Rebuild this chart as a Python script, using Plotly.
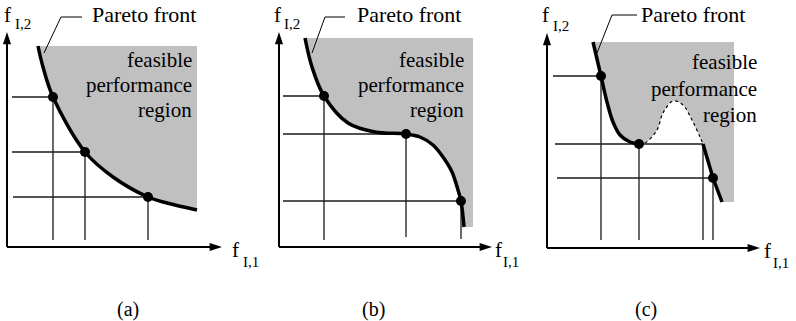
import plotly.graph_objects as go

# ---------------- data (panel-local units, origin at the axes corner) ----------------
# panel (a)
a_front_x = [31, 36, 46, 78, 106, 141, 160, 190]
a_front_y = [201, 180, 150, 95, 70, 50, 44, 37]
a_pts_x = [46, 78, 141]
a_pts_y = [150, 95, 50]
a_hline_start = [5, 5, 6]
a_vline_end = [7, 7, 7]
a_region_right = 190
a_region_top = 201

# panel (b)
b_front_x = [26, 33, 45, 69, 96, 127, 141, 154, 164, 173, 179, 182, 185]
b_front_y = [209, 180, 151, 124, 115, 113, 110, 102, 90, 75, 57, 46, 20]
b_pts_x = [45, 127, 182]
b_pts_y = [151, 113, 46]
b_hline_start = [4, 4, 4]
b_vline_end = [7, 10, 8]
b_region_right = 194
b_region_top = 209

# panel (c)
c_front1_x = [46, 54, 60, 66, 73, 83, 92]
c_front1_y = [206, 172, 146, 126, 113, 106, 104]
c_gap_x = [92, 98, 110, 116, 126, 136, 145, 153, 156]
c_gap_y = [104, 105, 118, 135, 147, 143, 128, 111, 104]
c_front2_x = [156, 166, 175]
c_front2_y = [104, 70, 46]
c_pts_x = [54, 92, 166]
c_pts_y = [172, 104, 70]
c_hline_y = [172, 104, 70]
c_hline_start = [6, 8, 10]
c_hline_end = [54, 156, 166]
c_vline_x = [54, 92, 156, 166]
c_vline_top = [172, 104, 104, 70]
c_vline_end = [8, 8, 8, 8]
c_region_right = 187
c_region_top = 206

panel_labels = ["(a)", "(b)", "(c)"]
axis_y_label = "f"
axis_y_sub = "I,2"
axis_x_label = "f"
axis_x_sub = "I,1"
front_label = "Pareto front"
region_lines = ["feasible", "performance", "region"]

# ---------------- style ----------------
FONT = "Liberation Serif"
GRAY = "#c0c0c0"
INK = "#000000"
THIN = "#1a1a1a"

fig = go.Figure()

panels = [
    dict(xa="x", ya="y", dom=[0, 265 / 796], xr=[-7, 258], yr=[-74, 247]),
    dict(xa="x2", ya="y2", dom=[265 / 796, 530 / 796], xr=[-14, 251], yr=[-74, 247]),
    dict(xa="x3", ya="y3", dom=[530 / 796, 1], xr=[-17, 249], yr=[-73, 248]),
]


def add_region(p, fx, fy, right, top):
    # outer boundary (invisible) then the front, filled between them
    fig.add_trace(go.Scatter(x=[fx[0], right, right], y=[top, top, fy[-1]],
                             mode="lines", line=dict(width=0, color=GRAY),
                             xaxis=p["xa"], yaxis=p["ya"], hoverinfo="skip"))
    fig.add_trace(go.Scatter(x=fx, y=fy, mode="lines", fill="tonexty",
                             fillcolor=GRAY, line=dict(width=0, color=GRAY, shape="spline"),
                             xaxis=p["xa"], yaxis=p["ya"], hoverinfo="skip"))


def add_seg(p, xs, ys, width=1.3, color=THIN, dash="solid", shape="linear"):
    fig.add_trace(go.Scatter(x=xs, y=ys, mode="lines",
                             line=dict(width=width, color=color, dash=dash, shape=shape),
                             xaxis=p["xa"], yaxis=p["ya"], hoverinfo="skip"))


def add_axes(p, ytop, xtip):
    add_seg(p, [0, 0], [0, ytop - 4], width=2, color=INK)
    add_seg(p, [0, xtip - 4], [0, 0], width=2, color=INK)
    fig.add_trace(go.Scatter(x=[0, xtip], y=[ytop, 0], mode="markers",
                             marker=dict(symbol="arrow", size=13, angle=[0, 90],
                                         color=INK, line=dict(width=0)),
                             xaxis=p["xa"], yaxis=p["ya"], hoverinfo="skip"))


def add_points(p, xs, ys):
    fig.add_trace(go.Scatter(x=xs, y=ys, mode="markers",
                             marker=dict(size=10, color=INK, line=dict(width=0)),
                             xaxis=p["xa"], yaxis=p["ya"], hoverinfo="skip"))


# panel (a)
pa, pb, pc = panels
add_region(pa, a_front_x, a_front_y, a_region_right, a_region_top)
for x, y, s, e in zip(a_pts_x, a_pts_y, a_hline_start, a_vline_end):
    add_seg(pa, [s, x], [y, y])
    add_seg(pa, [x, x], [y, e])
add_seg(pa, a_front_x, a_front_y, width=3.5, color=INK, shape="spline")
add_axes(pa, 215, 215)
add_points(pa, a_pts_x, a_pts_y)

# panel (b)
add_region(pb, b_front_x, b_front_y, b_region_right, b_region_top)
for x, y, s, e in zip(b_pts_x, b_pts_y, b_hline_start, b_vline_end):
    add_seg(pb, [s, x], [y, y])
    add_seg(pb, [x, x], [y, e])
add_seg(pb, b_front_x, b_front_y, width=3.5, color=INK, shape="spline")
add_axes(pb, 215, 213)
add_points(pb, b_pts_x, b_pts_y)

# panel (c)
c_all_x = c_front1_x + c_gap_x[1:] + c_front2_x[1:]
c_all_y = c_front1_y + c_gap_y[1:] + c_front2_y[1:]
add_region(pc, c_all_x, c_all_y, c_region_right, c_region_top)
for y, s, e in zip(c_hline_y, c_hline_start, c_hline_end):
    add_seg(pc, [s, e], [y, y])
for x, t, e in zip(c_vline_x, c_vline_top, c_vline_end):
    add_seg(pc, [x, x], [t, e])
add_seg(pc, c_front1_x, c_front1_y, width=3.5, color=INK, shape="spline")
add_seg(pc, c_gap_x, c_gap_y, width=1.2, color=INK, dash="dot", shape="spline")
add_seg(pc, c_front2_x, c_front2_y, width=3.5, color=INK)
add_axes(pc, 215, 213)
add_points(pc, c_pts_x, c_pts_y)

# leader lines for "Pareto front"
leaders = [
    (pa, [37, 54, 75], [194, 230, 230]),
    (pb, [33, 46, 66], [194, 230, 230]),
    (pc, [50, 65, 90], [195, 233, 233]),
]
for p, lx, ly in leaders:
    add_seg(p, lx, ly, width=1, color=INK)

# ---------------- text ----------------
ann = []


def txt(p, x, y, s, size, xanchor="center", yanchor="middle"):
    ann.append(dict(x=x, y=y, xref=p["xa"], yref=p["ya"], text=s, showarrow=False,
                    xanchor=xanchor, yanchor=yanchor,
                    font=dict(family=FONT, size=size, color=INK)))


# per-panel text positions: (front label x,y), region right x, region ys,
# f_I,2 (x,y) sub (x,y), f_I,1 (x,y) sub (x,y), panel label x,y
text_pos = [
    (pa, (83, 233), 187, [187, 162, 137], (0.5, 232), (6, 223), (228, -3), (234, -15), 120.5, -62),
    (pb, (76, 233), 187, [187, 162, 137], (-2, 232), (3, 223), (219, -3), (222, -15), 94, -62),
    (pc, (92, 234), 212, [186, 159, 133], (-2, 233), (4, 222), (220.5, -3), (224, -15), 99, -61),
]
for i, (p, fl, rx, rys, fy2, sy2, fx1, sx1, lx, ly) in enumerate(text_pos):
    txt(p, fl[0], fl[1], front_label, 22, xanchor="left")
    for s, ry in zip(region_lines, rys):
        txt(p, rx, ry, s, 21, xanchor="right")
    txt(p, fy2[0], fy2[1], axis_y_label, 21)
    txt(p, sy2[0], sy2[1], axis_y_sub, 15, xanchor="left")
    txt(p, fx1[0], fx1[1], axis_x_label, 21)
    txt(p, sx1[0], sx1[1], axis_x_sub, 15, xanchor="left")
    txt(p, lx, ly, panel_labels[i], 20)

layout_axes = {}
for i, p in enumerate(panels):
    suf = "" if i == 0 else str(i + 1)
    layout_axes["xaxis" + suf] = dict(domain=p["dom"], range=p["xr"], visible=False,
                                      fixedrange=True, anchor="y" + suf)
    layout_axes["yaxis" + suf] = dict(domain=[0, 1], range=p["yr"], visible=False,
                                      fixedrange=True, anchor="x" + suf)

fig.update_layout(width=796, height=321, margin=dict(l=0, r=0, t=0, b=0),
                  paper_bgcolor="white", plot_bgcolor="white", showlegend=False,
                  font=dict(family=FONT, color=INK),
                  annotations=ann, **layout_axes)

fig.write_html("out.html", config={"displayModeBar": False},
               post_script="document.body.style.margin='0';document.body.style.overflow='hidden';")
